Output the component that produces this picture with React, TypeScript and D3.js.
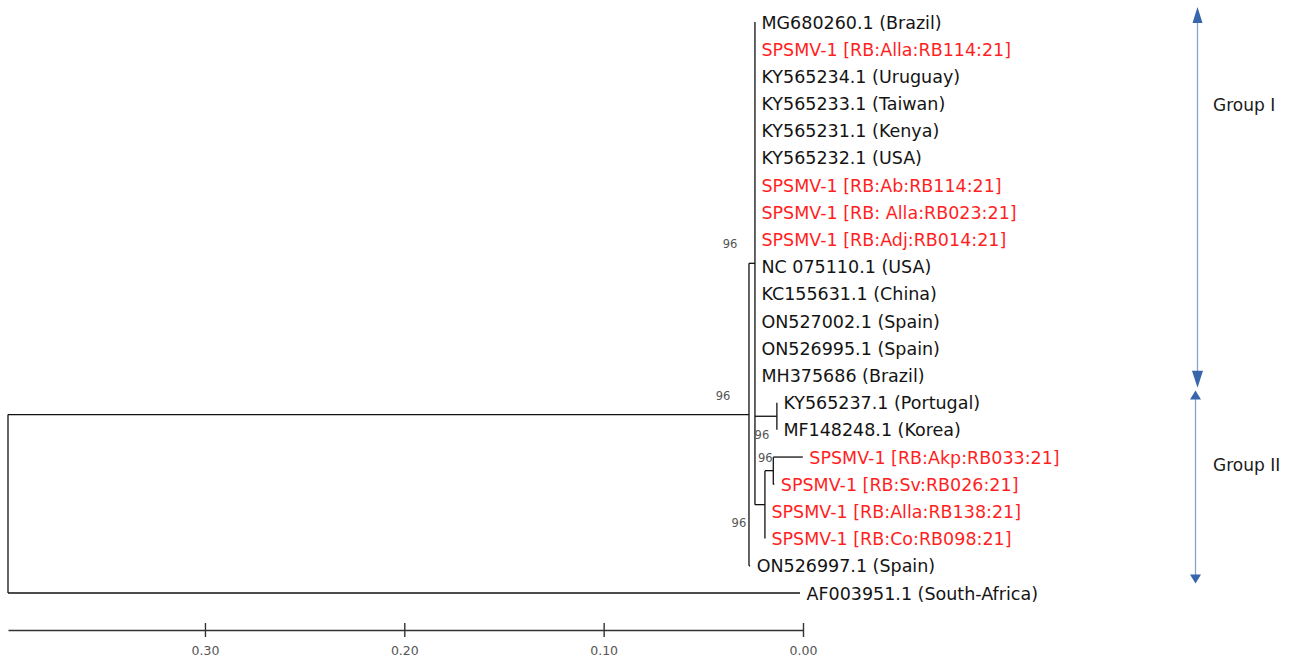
// Árbol filogenético SPSMV-1 con escala de distancia y grupos a la derecha
import { useRef, useEffect } from 'react'
import * as d3 from 'd3'

type TreeNode = { name?: string; len: number; boot?: number; key?: string; children?: TreeNode[] }

// hojas del grupo I (todas con rama ~0 desde el nodo B)
const groupILeaves = [
  'MG680260.1 (Brazil)',
  'SPSMV-1 [RB:Alla:RB114:21]',
  'KY565234.1 (Uruguay)',
  'KY565233.1 (Taiwan)',
  'KY565231.1 (Kenya)',
  'KY565232.1 (USA)',
  'SPSMV-1 [RB:Ab:RB114:21]',
  'SPSMV-1 [RB: Alla:RB023:21]',
  'SPSMV-1 [RB:Adj:RB014:21]',
  'NC 075110.1 (USA)',
  'KC155631.1 (China)',
  'ON527002.1 (Spain)',
  'ON526995.1 (Spain)',
  'MH375686 (Brazil)',
]
const koreaPair = ['KY565237.1 (Portugal)', 'MF148248.1 (Korea)']
const outgroup = 'AF003951.1 (South-Africa)'

const tree: TreeNode = {
  len: 0,
  children: [
    {
      key: 'A', len: 0.3717, boot: 96,
      children: [
        {
          key: 'B', len: 0.0030, boot: 96,
          children: [
            ...groupILeaves.map(name => ({ name, len: 0 })),
            { key: 'C', len: 0.0110, boot: 96, children: koreaPair.map(name => ({ name, len: 0 })) },
            {
              key: 'D', len: 0.0050, boot: 96,
              children: [
                {
                  key: 'E', len: 0.0042, boot: 96,
                  children: [
                    { name: 'SPSMV-1 [RB:Akp:RB033:21]', len: 0.0148 },
                    { name: 'SPSMV-1 [RB:Sv:RB026:21]', len: 0.0005 },
                  ],
                },
                { name: 'SPSMV-1 [RB:Alla:RB138:21]', len: 0 },
                { name: 'SPSMV-1 [RB:Co:RB098:21]', len: 0 },
              ],
            },
          ],
        },
        { name: 'ON526997.1 (Spain)', len: 0.0006 },
      ],
    },
    { name: outgroup, len: 0.3973 },
  ],
}

const axisTicks = [0.3, 0.2, 0.1, 0]
const axisMax = 0.3988

// grupos: rango en índices de hoja
const groupNames = ['Group I', 'Group II']
const groupFrom = [-0.55, 13.55]
const groupTo = [13.45, 20.65]
const groupLabelAt = [3.05, 16.3]

export default function App() {
  const svgRef = useRef<SVGSVGElement>(null)

  useEffect(() => {
    const width = 1293
    const height = 661
    const svg = d3.select(svgRef.current).attr('width', width).attr('height', height)
    svg.selectAll('*').remove()

    const font = 'DejaVu Sans, Verdana, sans-serif'
    const root = d3.hierarchy(tree)
    const leaves = root.leaves()

    const x = d3.scaleLinear().domain([0, axisMax]).range([8, 803])
    const y = d3.scaleLinear().domain([0, leaves.length - 1]).range([22, 593])

    // posiciones: x acumulada, y por orden de hoja / punto medio de hijos
    const pos = new Map<any, { x: number; y: number }>()
    root.eachBefore((n: any) => {
      const d = (n.parent ? pos.get(n.parent).x : 0) + n.data.len
      pos.set(n, { x: d, y: 0 })
    })
    leaves.forEach((l, i) => { pos.get(l).y = y(i) })
    root.eachAfter((n: any) => {
      if (n.children) {
        const ys = n.children.map((c: any) => pos.get(c).y)
        pos.get(n).y = (ys[0] + ys[ys.length - 1]) / 2
      }
    })

    const g = svg.append('g')

    // ramas verticales
    root.descendants().filter(n => n.children).forEach((n: any) => {
      const ys = n.children.map((c: any) => pos.get(c).y)
      g.append('line')
        .attr('x1', x(pos.get(n).x)).attr('x2', x(pos.get(n).x))
        .attr('y1', ys[0]).attr('y2', ys[ys.length - 1])
        .attr('stroke', '#111').attr('stroke-width', 1.3)
    })
    // ramas horizontales
    root.descendants().filter(n => n.parent).forEach((n: any) => {
      if (n.data.len === 0) return
      g.append('line')
        .attr('x1', x(pos.get(n.parent).x)).attr('x2', x(pos.get(n).x))
        .attr('y1', pos.get(n).y).attr('y2', pos.get(n).y)
        .attr('stroke', '#111').attr('stroke-width', 1.3)
    })

    // etiquetas de hojas
    leaves.forEach((l: any) => {
      const p = pos.get(l)
      g.append('text')
        .attr('x', x(p.x) + 6.5)
        .attr('y', p.y + 0.5)
        .attr('dominant-baseline', 'central')
        .attr('font-family', font)
        .attr('font-size', '17.5px')
        .attr('fill', l.data.name.startsWith('SPSMV') ? '#ff1f1f' : '#141414')
        .text(l.data.name)
    })

    // bootstrap
    const bootOffset: Record<string, [number, number]> = {
      A: [-26, -19], B: [-25, -19], C: [-15, 19], D: [-26, 18], E: [-8, -13],
    }
    root.descendants().filter((n: any) => n.data.boot).forEach((n: any) => {
      const p = pos.get(n)
      const off = bootOffset[n.data.key] || [-20, -15]
      g.append('text')
        .attr('x', x(p.x) + off[0])
        .attr('y', p.y + off[1])
        .attr('text-anchor', 'middle')
        .attr('dominant-baseline', 'central')
        .attr('font-family', font)
        .attr('font-size', '11.5px')
        .attr('fill', '#555')
        .text(n.data.boot)
    })

    // escala
    const xAxis = d3.scaleLinear().domain([axisMax, 0]).range([8, 803])
    const axisG = svg.append('g').attr('transform', 'translate(0,630)')
      .call(d3.axisBottom(xAxis).tickValues(axisTicks).tickFormat(d3.format('.2f')).tickSizeOuter(0))
    axisG.select('.domain').attr('stroke', '#333').attr('stroke-width', 1.4)
    axisG.selectAll('.tick line').attr('y1', -7).attr('y2', 7).attr('stroke', '#333').attr('stroke-width', 1.4)
    axisG.selectAll('.tick text')
      .attr('y', 21).attr('dy', '0.35em')
      .attr('font-family', font).attr('font-size', '12.5px').attr('fill', '#555')

    // grupos con flechas
    const arrowCol = '#3866ab'
    const gx = [1197.5, 1195.5]
    const headH = [[16, 17], [9, 9]]
    const headW = [[10, 11], [11, 11]]
    groupNames.forEach((name, i) => {
      const top = y(groupFrom[i])
      const bot = y(groupTo[i])
      const cx = gx[i]
      svg.append('line')
        .attr('x1', cx).attr('x2', cx)
        .attr('y1', top + headH[i][0] - 1).attr('y2', bot - headH[i][1] + 1)
        .attr('stroke', '#86a3d2').attr('stroke-width', 1.3)
      svg.append('path')
        .attr('d', `M${cx},${top} L${cx - headW[i][0] / 2},${top + headH[i][0]} L${cx + headW[i][0] / 2},${top + headH[i][0]} Z`)
        .attr('fill', arrowCol)
      svg.append('path')
        .attr('d', `M${cx},${bot} L${cx - headW[i][1] / 2},${bot - headH[i][1]} L${cx + headW[i][1] / 2},${bot - headH[i][1]} Z`)
        .attr('fill', arrowCol)
      svg.append('text')
        .attr('x', 1213)
        .attr('y', y(groupLabelAt[i]))
        .attr('dominant-baseline', 'central')
        .attr('font-family', font)
        .attr('font-size', '17px')
        .attr('fill', '#1a1a1a')
        .text(name)
    })
  }, [])

  return <svg ref={svgRef} style={{ display: 'block', position: 'absolute', left: 0, top: 0, background: '#fff' }} />
}
